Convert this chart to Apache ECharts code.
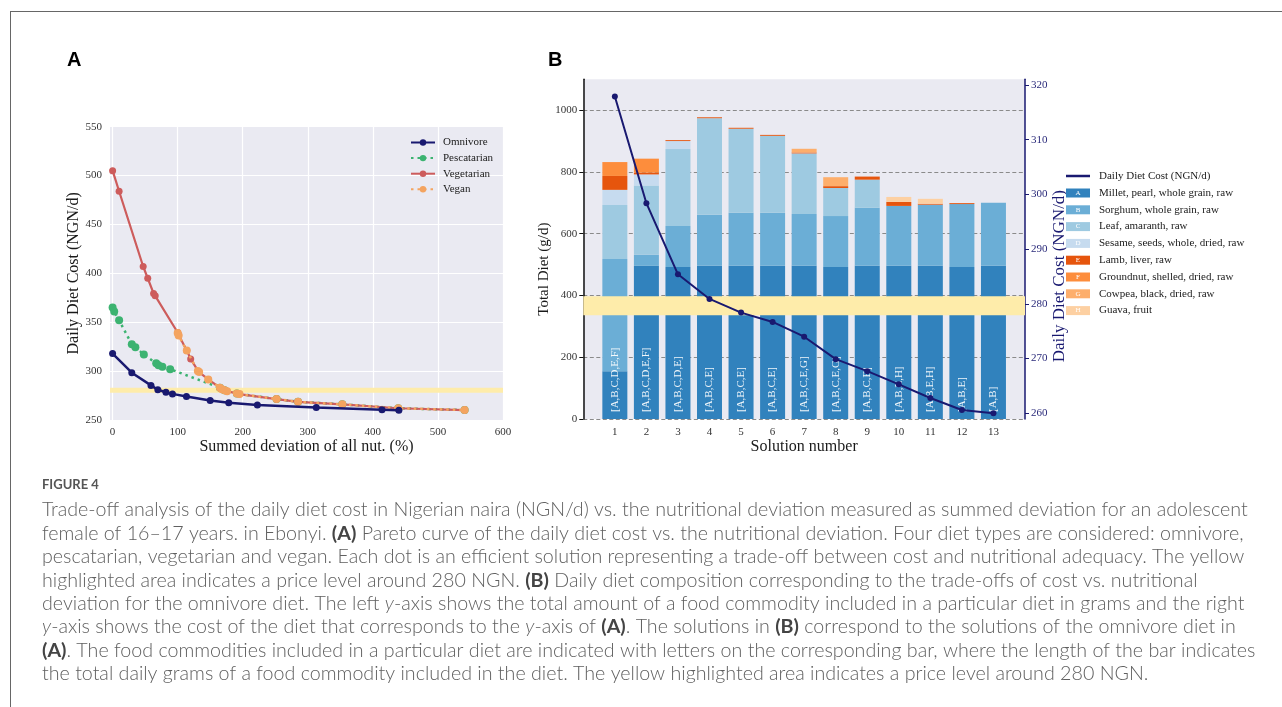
<!DOCTYPE html>
<html><head><meta charset="utf-8">
<script src="https://cdn.jsdelivr.net/npm/echarts@6/dist/echarts.min.js"></script>
<style>
html,body{margin:0;padding:0;background:#fff;width:1282px;height:707px;overflow:hidden}
#frame{position:absolute;left:10px;top:11px;width:1300px;height:720px;border-left:1.5px solid #666;border-top:1.5px solid #666;box-sizing:border-box}
#chart{position:absolute;left:0;top:0;width:1282px;height:707px}
</style></head><body>
<div id="frame"></div><div id="chart"></div>
<script>
// ---------- Panel A data ----------
const omniX  = [0, 29.5, 59, 69.5, 82, 92, 113.5, 150, 178.5, 222.5, 313, 414, 440];
const costs  = [317.9, 298.4, 285.4, 280.9, 278.4, 276.7, 274.0, 269.9, 267.7, 265.3, 262.8, 260.6, 260.0];
const pescX  = [0, 2.5, 10, 29.5, 35, 48, 67, 70.5, 76.5, 88.5, 165, 172, 191, 252, 285, 353, 439, 541];
const pescY  = [365, 361, 352, 327.5, 324.5, 317, 308, 306, 304.5, 302, 283, 280.5, 277, 271.4, 268.6, 266, 262, 260.2];
const vegX   = [0, 10, 47, 54, 63, 65.5, 100, 101.5, 114, 120, 132, 147, 165, 170, 175, 191, 194.5, 252, 285, 353, 439, 541];
const vegY   = [505, 484, 407, 395, 379.5, 377, 339.5, 337, 321, 312.5, 299.5, 291.5, 283, 281.3, 279.6, 277.2, 276.5, 271.4, 268.6, 266, 262, 260.2];
const veganX = [100, 101.5, 114, 131, 133, 147, 165, 168, 172, 176, 191, 195, 252, 285, 353, 439, 541];
const veganY = [339, 336.5, 321, 300, 299, 291.5, 283, 281.5, 280.5, 279.5, 277, 276.5, 271.4, 268.6, 266, 262, 260.2];
const xTicksA = [0, 100, 200, 300, 400, 500, 600];
const bandA = [278, 283];

// ---------- Panel B data ----------
const solutions = [1,2,3,4,5,6,7,8,9,10,11,12,13];
const letters = ['A','B','C','D','E','F','G','H'];
const commodities = ['Millet, pearl, whole grain, raw','Sorghum, whole grain, raw','Leaf, amaranth, raw','Sesame, seeds, whole, dried, raw','Lamb, liver, raw','Groundnut, shelled, dried, raw','Cowpea, black, dried, raw','Guava, fruit'];
const gramsA = [155, 496, 492, 496, 496, 496, 496, 492, 496, 496, 496, 492, 496];
const gramsB = [363, 36, 133, 165, 172, 172, 168, 165, 188, 194, 198, 204, 204];
const gramsC = [175, 224, 249, 313, 272, 249, 196, 91, 91, 0, 0, 0, 0];
const gramsD = [49, 36, 26, 0, 0, 0, 0, 0, 0, 0, 0, 0, 0];
const gramsE = [45, 6, 3, 3, 3, 3, 3, 6, 10, 13, 3, 3, 0];
const gramsF = [45, 45, 0, 0, 0, 0, 0, 0, 0, 0, 0, 0, 0];
const gramsG = [0, 0, 0, 0, 0, 0, 12, 29, 0, 0, 0, 0, 0];
const gramsH = [0, 0, 0, 0, 0, 0, 0, 0, 0, 16, 16, 0, 0];
const gramTicks = [0, 200, 400, 600, 800, 1000];
const costTicks = [260, 270, 280, 290, 300, 310, 320];
const bandB = [277.9, 281.4];

const captionLines = [
 'Trade-off analysis of the daily diet cost in Nigerian naira (NGN/d) vs. the nutritional deviation measured as summed deviation for an adolescent',
 'female of 16–17 years. in Ebonyi. {b|(A)} Pareto curve of the daily diet cost vs. the nutritional deviation. Four diet types are considered: omnivore,',
 'pescatarian, vegetarian and vegan. Each dot is an efficient solution representing a trade-off between cost and nutritional adequacy. The yellow',
 'highlighted area indicates a price level around 280 NGN. {b|(B)} Daily diet composition corresponding to the trade-offs of cost vs. nutritional',
 'deviation for the omnivore diet. The left {i|y}-axis shows the total amount of a food commodity included in a particular diet in grams and the right',
 '{i|y}-axis shows the cost of the diet that corresponds to the {i|y}-axis of {b|(A)}. The solutions in {b|(B)} correspond to the solutions of the omnivore diet in',
 '{b|(A)}. The food commodities included in a particular diet are indicated with letters on the corresponding bar, where the length of the bar indicates',
 'the total daily grams of a food commodity included in the diet. The yellow highlighted area indicates a price level around 280 NGN.'
];

// ---------- styling ----------
const SERIF = '"Liberation Serif", "DejaVu Serif", serif';
const CAPF = 'Lato, "Open Sans", sans-serif';
const NAVY = '#191970';
const BAND = '#feecaa';
const barColors = ['#3182bd','#6baed6','#9ecae1','#c6dbef','#e6550d','#fd8d3c','#fdae6b','#fdd0a2'];
const grams = [gramsA, gramsB, gramsC, gramsD, gramsE, gramsF, gramsG, gramsH];
const barLabels = solutions.map((s, i) => '[' + letters.filter((l, k) => grams[k][i] > 0).join(',') + ']');

// B x axis: one empty slot on each side so solutions sit at 1..13 of a 0..14 range
const xCatsB = [''].concat(solutions.map(String), ['']);
const padB = arr => ['-'].concat(arr, ['-']);

// fit caption font so first line spans the reference width
const mctx = document.createElement('canvas').getContext('2d');
mctx.font = '300 16px Lato';
const capSize = 16 * 1206 / mctx.measureText(captionLines[0]).width;
const capLH = 23.4;

const zip = (xs, ys) => xs.map((x, i) => [x, ys[i]]);
const tickFont = {fontFamily: SERIF, fontSize: 11, color: '#333'};
const nameFont = {fontFamily: SERIF, fontSize: 16, color: '#1a1a1a'};

const chart = echarts.init(document.getElementById('chart'), null, {renderer: 'canvas'});

const swatchRich = {};
letters.forEach((l, k) => {
  swatchRich['s' + l] = {backgroundColor: barColors[k], color: '#fff', width: 24, height: 9, lineHeight: 9, align: 'center', fontSize: 7, fontFamily: SERIF};
});
swatchRich.g = {width: 9};
swatchRich.t = {fontFamily: SERIF, fontSize: 11, color: '#1a1a1a', lineHeight: 14};

const series = [
  {name: 'Omnivore', type: 'line', xAxisIndex: 0, yAxisIndex: 0, data: zip(omniX, costs), symbol: 'circle', symbolSize: 7,
   itemStyle: {color: NAVY}, lineStyle: {color: NAVY, width: 2.5}, z: 5,
   markArea: {silent: true, z: 1, itemStyle: {color: BAND}, data: [[{yAxis: bandA[0]}, {yAxis: bandA[1]}]]}},
  {name: 'Pescatarian', type: 'line', xAxisIndex: 0, yAxisIndex: 0, data: zip(pescX, pescY), symbol: 'circle', symbolSize: 8,
   itemStyle: {color: '#3cb371'}, lineStyle: {color: '#3cb371', width: 2.5, type: [2.5, 4]}, z: 3},
  {name: 'Vegetarian', type: 'line', xAxisIndex: 0, yAxisIndex: 0, data: zip(vegX, vegY), symbol: 'circle', symbolSize: 7,
   itemStyle: {color: '#cd5c5c'}, lineStyle: {color: '#cd5c5c', width: 2.2}, z: 3},
  {name: 'Vegan', type: 'line', xAxisIndex: 0, yAxisIndex: 0, data: zip(veganX, veganY), symbol: 'circle', symbolSize: 8,
   itemStyle: {color: '#f4a460'}, lineStyle: {color: '#f4a460', width: 2.5, type: [2.5, 4]}, z: 4}
];

commodities.forEach((name, k) => {
  const s = {
    name, type: 'bar', xAxisIndex: 1, yAxisIndex: 1, stack: 'diet', barWidth: 25,
    data: padB(grams[k]),
    itemStyle: {color: barColors[k]}, z: 2
  };
  if (k === 0) {
    s.label = {show: true, position: 'insideBottom', rotate: 90, align: 'left', verticalAlign: 'middle', distance: 7,
      color: 'rgba(255,255,255,0.92)', fontFamily: SERIF, fontSize: 11, formatter: p => barLabels[p.dataIndex - 1]};
  }
  series.push(s);
});

series.push({
  name: 'Daily Diet Cost (NGN/d)', type: 'line', xAxisIndex: 1, yAxisIndex: 2, data: padB(costs),
  symbol: 'circle', symbolSize: 6, itemStyle: {color: NAVY}, lineStyle: {color: NAVY, width: 2}, z: 10,
  markArea: {silent: true, z: 4, itemStyle: {color: BAND}, data: [[{yAxis: bandB[0]}, {yAxis: bandB[1]}]]}
});

const option = {
  animation: false,
  backgroundColor: 'transparent',
  title: [
    {text: 'A', left: 62, top: 45, textStyle: {fontFamily: '"Liberation Sans", Arial, sans-serif', fontWeight: 'bold', fontSize: 20, color: '#000'}},
    {text: 'B', left: 543, top: 45, textStyle: {fontFamily: '"Liberation Sans", Arial, sans-serif', fontWeight: 'bold', fontSize: 20, color: '#000'}}
  ],
  grid: [
    {left: 110, top: 126.7, width: 393, height: 293.3, show: true, backgroundColor: '#eaeaf2', borderWidth: 0, containLabel: false},
    {left: 583.3, top: 79.3, width: 441.7, height: 339.7, show: true, backgroundColor: '#eaeaf2', borderWidth: 0, containLabel: false}
  ],
  xAxis: [
    {type: 'value', gridIndex: 0, min: -4, max: 600,
     axisLine: {show: false, onZero: false}, axisTick: {show: false, customValues: xTicksA},
     axisLabel: Object.assign({customValues: xTicksA, margin: 7}, tickFont),
     splitLine: {show: true, lineStyle: {color: '#fff', width: 1.2}},
     name: 'Summed deviation of all nut. (%)', nameLocation: 'middle', nameGap: 19, nameTextStyle: nameFont},
    {type: 'category', gridIndex: 1, data: xCatsB, boundaryGap: false,
     axisLine: {show: false, onZero: false}, axisTick: {show: false},
     axisLabel: Object.assign({interval: 0, margin: 8}, tickFont),
     splitLine: {show: false},
     name: 'Solution number', nameLocation: 'middle', nameGap: 20, nameTextStyle: nameFont}
  ],
  yAxis: [
    {type: 'value', gridIndex: 0, min: 250, max: 550, interval: 50,
     axisLine: {show: false, onZero: false}, axisTick: {show: false},
     axisLabel: Object.assign({margin: 8}, tickFont),
     splitLine: {show: true, lineStyle: {color: '#fff', width: 1.2}},
     name: 'Daily Diet Cost (NGN/d)', nameLocation: 'middle', nameGap: 28, nameTextStyle: nameFont},
    {type: 'value', gridIndex: 1, min: 0, max: 1100,
     axisLine: {show: true, onZero: false, lineStyle: {color: '#111', width: 1.5}},
     axisTick: {show: true, length: 4, customValues: gramTicks, lineStyle: {color: '#111'}},
     axisLabel: Object.assign({customValues: gramTicks, margin: 6, formatter: v => String(v)}, tickFont),
     splitLine: {show: true, lineStyle: {color: '#8a8a8a', width: 1, type: [4, 2.5]}},
     name: 'Total Diet (g/d)', nameLocation: 'middle', nameGap: 30,
     nameTextStyle: Object.assign({}, nameFont, {fontSize: 15, padding: [0, 40, 0, 0]})},
    {type: 'value', gridIndex: 1, position: 'right', min: 258.96, max: 321.04,
     axisLine: {show: true, onZero: false, lineStyle: {color: NAVY, width: 1.5}},
     axisTick: {show: true, length: 4, customValues: costTicks, lineStyle: {color: NAVY}},
     axisLabel: Object.assign({}, tickFont, {customValues: costTicks, margin: 6, color: '#2a2a7a'}),
     splitLine: {show: false},
     name: 'Daily Diet Cost (NGN/d)', nameLocation: 'middle', nameGap: 24,
     nameTextStyle: Object.assign({}, nameFont, {fontSize: 17, color: NAVY, padding: [0, 54, 0, 0]})}
  ],
  legend: [
    {data: ['Omnivore', 'Pescatarian', 'Vegetarian', 'Vegan'], orient: 'vertical', left: 405, top: 132,
     itemWidth: 24, itemHeight: 8, itemGap: 4.6, selectedMode: false,
     textStyle: {fontFamily: SERIF, fontSize: 11, color: '#1a1a1a', padding: [0, 0, 0, 3]}},
    {data: [{name: 'Daily Diet Cost (NGN/d)', icon: 'rect'}], orient: 'vertical', left: 1061, top: 165.5,
     itemWidth: 24, itemHeight: 2.5, selectedMode: false,
     textStyle: {fontFamily: SERIF, fontSize: 11, color: '#1a1a1a', padding: [0, 0, 0, 4]}},
    {data: commodities.map(n => ({name: n, icon: 'none'})), orient: 'vertical', left: 1056, top: 181,
     itemWidth: 0, itemHeight: 14, itemGap: 3.8, selectedMode: false,
     formatter: name => { const l = letters[commodities.indexOf(name)]; return '{s' + l + '|' + l + '}{g|}{t|' + name + '}'; },
     textStyle: {rich: swatchRich}}
  ],
  graphic: [
    {type: 'text', left: 42, top: 478, silent: true,
     style: {text: 'FIGURE 4', fill: '#555', font: 'bold 13px ' + CAPF}},
    {type: 'text', left: 42, top: 510 - capLH / 2, silent: true,
     style: {text: captionLines.join('\n'), fill: '#606060', fontSize: capSize, fontWeight: 300, fontFamily: CAPF, lineHeight: capLH,
       rich: {
         b: {fontWeight: 'bold', fontSize: capSize, fontFamily: CAPF, lineHeight: capLH, fill: '#444'},
         i: {fontStyle: 'italic', fontWeight: 300, fontSize: capSize, fontFamily: CAPF, lineHeight: capLH, fill: '#606060'}
       }}}
  ],
  series
};
chart.setOption(option);
</script></body></html>
